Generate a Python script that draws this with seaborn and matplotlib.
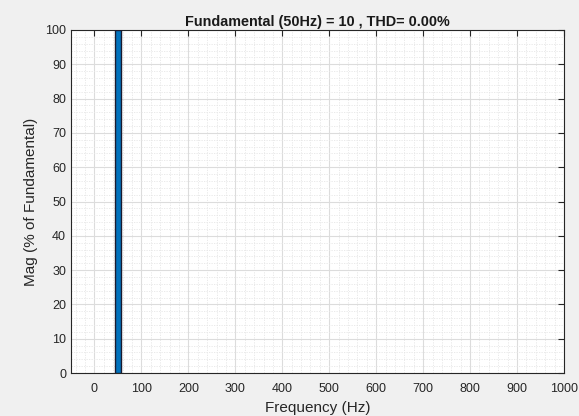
import matplotlib
matplotlib.use("Agg")
import matplotlib.pyplot as plt
import seaborn as sns
import pandas as pd
from matplotlib.ticker import MultipleLocator

# data
freqs = [50]
mags = [100.0]
fund_freq = 50
fund_mag = 10
thd = 0.00
xticks = [0, 100, 200, 300, 400, 500, 600, 700, 800, 900, 1000]
yticks = [0, 10, 20, 30, 40, 50, 60, 70, 80, 90, 100]

sns.set_style("white")
plt.rcParams['font.family'] = ['Liberation Sans', 'DejaVu Sans']

fig = plt.figure(figsize=(5.79, 4.16), dpi=100, facecolor='#F0F0F0')
ax = fig.add_axes([71/579, 43/416, (564-71)/579, (373-30)/416])
ax.set_facecolor('white')

df = pd.DataFrame({'Frequency (Hz)': freqs, 'Mag': mags})
sns.barplot(data=df, x='Frequency (Hz)', y='Mag', native_scale=True, width=12,
            color='#0072BD', saturation=1, edgecolor='#1a1a2e', linewidth=1.0, ax=ax, zorder=3)

ax.set_xlim(-50, 1000)
ax.set_ylim(0, 100)
ax.set_xticks(xticks)
ax.set_xticklabels([str(t) for t in xticks])
ax.set_yticks(yticks)
ax.set_yticklabels([str(t) for t in yticks])
ax.xaxis.set_minor_locator(MultipleLocator(20))
ax.yaxis.set_minor_locator(MultipleLocator(2))

ax.grid(which='major', color='#dcdcdc', linewidth=0.8, linestyle='-', zorder=0)
ax.grid(which='minor', color='#e6e6e6', linewidth=0.6, linestyle=(0, (1.5, 1.5)), zorder=0)
ax.set_axisbelow(True)

ax.tick_params(which='major', direction='in', length=4, width=0.8, color='#262626',
               top=True, right=True, labelsize=9, labelcolor='#262626')
ax.tick_params(axis='x', which='major', pad=7.5)
ax.tick_params(axis='y', which='major', pad=3.5)
ax.tick_params(which='minor', length=0)
for s in ax.spines.values():
    s.set_color('#262626')
    s.set_linewidth(0.8)

ax.set_xlabel('Frequency (Hz)', fontsize=11, color='#262626', labelpad=4)
ax.set_ylabel('Mag (% of Fundamental)', fontsize=11, color='#262626', labelpad=5)
ax.set_title(f'Fundamental ({fund_freq}Hz) = {fund_mag} , THD= {thd:.2f}%',
             fontsize=10.4, fontweight='bold', color='#1a1a1a', pad=3)

fig.savefig('out.png', dpi=100, facecolor=fig.get_facecolor())
